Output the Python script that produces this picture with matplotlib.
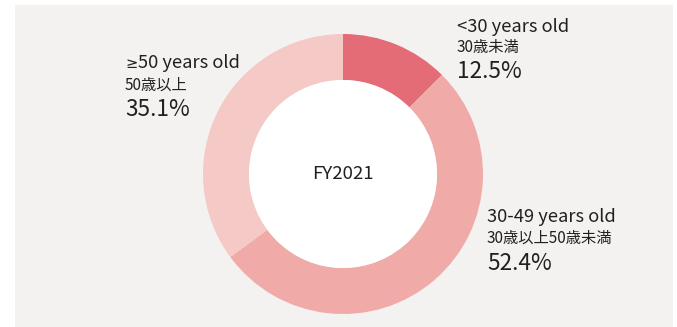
import matplotlib
matplotlib.use("Agg")
import matplotlib.pyplot as plt
from matplotlib.patches import Rectangle

plt.rcParams['font.family'] = ['Noto Sans CJK JP', 'DejaVu Sans']

# age composition, FY2021
groups_en = ["<30 years old", "30-49 years old", "\u226550 years old"]
groups_ja = ["30歳未満", "30歳以上50歳未満", "50歳以上"]
shares = [12.5, 52.4, 35.1]
colors = ["#e46c76", "#f0aaa8", "#f5c9c6"]

W, H = 677, 327
fig = plt.figure(figsize=(W / 100, H / 100), dpi=100)
ax = fig.add_axes([0, 0, 1, 1])

# grey panel behind the chart
ax.add_patch(Rectangle((15, 0), 658, 322, facecolor="#f3f2f0", edgecolor="none", zorder=0))

cx, cy, R = 343, 153, 140
ax.pie(shares, colors=colors, startangle=90, counterclock=False,
       center=(cx, cy), radius=R, frame=True,
       wedgeprops=dict(width=46, linewidth=0))
ax.add_patch(plt.Circle((cx, cy), R - 46, facecolor="white", edgecolor="none", zorder=3))
ax.set_xlim(0, W)
ax.set_ylim(0, H)
ax.set_aspect("equal")
ax.axis("off")

tc = "#231f20"
ax.text(cx, 148, "FY2021", ha="center", va="baseline", fontsize=13.4, color=tc, zorder=4)

# label anchors: left x, baselines of the three lines
label_pos = [(457, 295, 275, 249), (487, 105, 84, 57), (125, 259, 237, 211)]
for en, ja, v, (x, y1, y2, y3) in zip(groups_en, groups_ja, shares, label_pos):
    if en.startswith("\u2265"):
        # the CJK font's ≥ is full width, so take it from a Latin font
        ax.text(x, y1, "\u2265", fontsize=10.5, color=tc, va="baseline", family="DejaVu Sans")
        ax.text(x + 13, y1, en[1:], fontsize=13.2, color=tc, va="baseline")
    else:
        ax.text(x, y1, en, fontsize=13.2, color=tc, va="baseline")
    ax.text(x, y2, ja, fontsize=11, color=tc, va="baseline")
    ax.text(x, y3, f"{v}%", fontsize=16.3, color=tc, va="baseline")

fig.savefig("out.png", dpi=100, facecolor="white")
